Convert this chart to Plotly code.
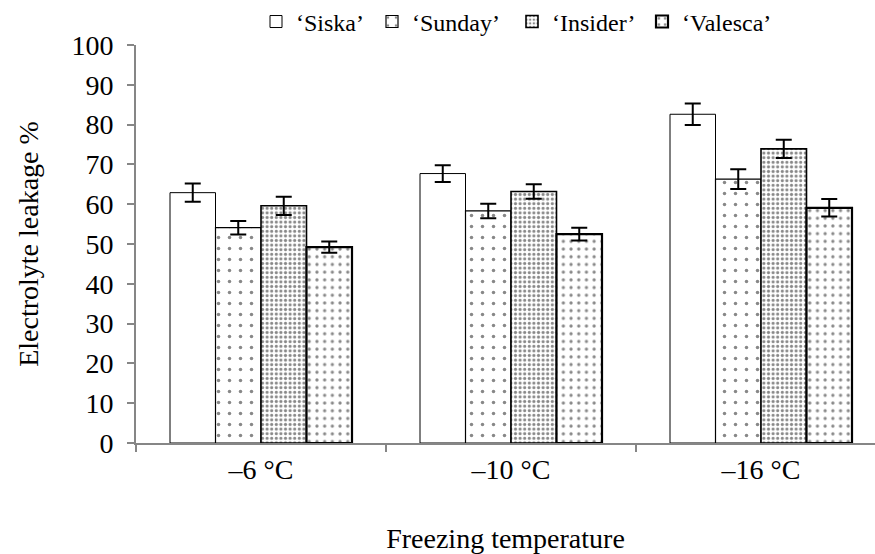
import plotly.graph_objects as go

# Electrolyte leakage (%) of four cultivars after freezing at three temperatures
temperatures = ["–6 °C", "–10 °C", "–16 °C"]
cultivars = ["‘Siska’", "‘Sunday’", "‘Insider’", "‘Valesca’"]

siska = [62.9, 67.7, 82.6]
sunday = [54.1, 58.3, 66.3]
insider = [59.6, 63.2, 73.9]
valesca = [49.2, 52.5, 59.1]

siska_err = [2.3, 2.1, 2.7]
sunday_err = [1.7, 1.8, 2.5]
insider_err = [2.3, 1.8, 2.3]
valesca_err = [1.4, 1.6, 2.2]

series = [siska, sunday, insider, valesca]
errors = [siska_err, sunday_err, insider_err, valesca_err]

# bar styling per cultivar: outline width, pattern shape, pattern size, solidity
styles = [
    dict(lw=1.0, shape="", size=8, sol=0.0),
    dict(lw=1.2, shape=".", size=11, sol=0.08),
    dict(lw=1.6, shape=".", size=4.6, sol=0.36),
    dict(lw=2.2, shape=".", size=7.7, sol=0.14),
]

# each cultivar has its own legend box so the entries can be spaced freely
legend_ids = ["legend", "legend2", "legend3", "legend4"]
legend_left_px = [256, 372, 512, 642]

FONT = "'Liberation Serif', 'Times New Roman', 'DejaVu Serif', serif"
PLOT_LEFT, PLOT_WIDTH = 136, 739

fig = go.Figure()
for name, vals, err, st, lg in zip(cultivars, series, errors, styles, legend_ids):
    fig.add_trace(go.Bar(
        name=name,
        x=temperatures,
        y=vals,
        legend=lg,
        error_y=dict(type="data", array=err, visible=True,
                     color="black", thickness=2, width=8),
        marker=dict(
            color="white",
            line=dict(color="black", width=st["lw"]),
            pattern=dict(shape=st["shape"], size=st["size"],
                         solidity=st["sol"], fgcolor="#111111",
                         fillmode="overlay"),
        ),
    ))

legend_layout = {}
for lg, px in zip(legend_ids, legend_left_px):
    legend_layout[lg] = dict(
        orientation="h", x=(px - PLOT_LEFT) / PLOT_WIDTH, xanchor="left",
        y=1.058, yanchor="middle",
        font=dict(family=FONT, size=24, color="black"),
        bgcolor="rgba(0,0,0,0)", itemwidth=30,
    )

fig.update_layout(
    width=875, height=554,
    margin=dict(l=PLOT_LEFT, r=0, t=45, b=111, autoexpand=False),
    paper_bgcolor="white", plot_bgcolor="white",
    barmode="group", bargap=0.272, bargroupgap=0,
    font=dict(family=FONT, size=28, color="black"),
    showlegend=True,
    **legend_layout,
)

fig.update_xaxes(
    type="category",
    range=[-0.5, -0.5 + PLOT_WIDTH / 250],
    showline=True, linecolor="#868686", linewidth=2,
    ticks="outside", tickson="boundaries", ticklen=7,
    tickcolor="#868686", tickwidth=2,
    ticklabelstandoff=0,
    tickfont=dict(family=FONT, size=28, color="black"),
    showgrid=False, zeroline=False,
    title=dict(text="Freezing temperature", standoff=50,
               font=dict(family=FONT, size=28, color="black")),
)

fig.update_yaxes(
    range=[0, 100], dtick=10,
    showline=True, linecolor="#868686", linewidth=2,
    ticks="outside", ticklen=7, tickcolor="#868686", tickwidth=2,
    ticklabelstandoff=8,
    tickfont=dict(family=FONT, size=28, color="black"),
    showgrid=False, zeroline=False,
    title=dict(text="Electrolyte leakage %", standoff=25,
               font=dict(family=FONT, size=28, color="black")),
)

fig.write_html("out.html")
